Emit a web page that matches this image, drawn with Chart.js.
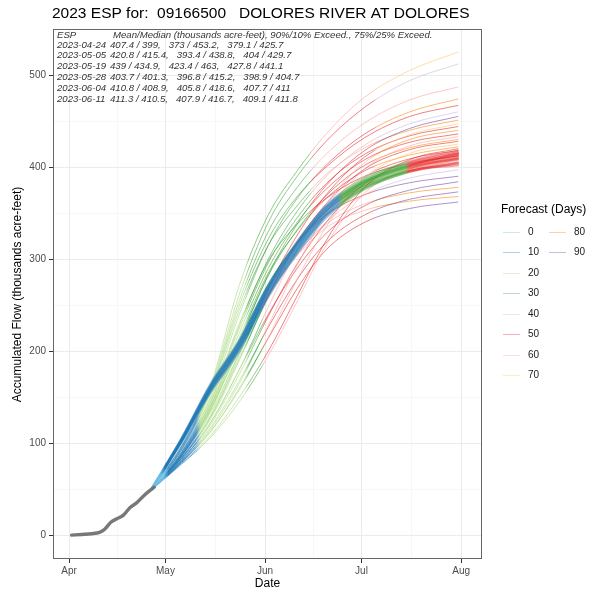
<!DOCTYPE html>
<html>
<head>
<meta charset="utf-8">
<script src="https://cdn.jsdelivr.net/npm/chart.js@4.4.1/dist/chart.umd.min.js"></script>
<style>
  html, body { margin: 0; padding: 0; background: #fff; }
</style>
</head>
<body>
<canvas id="chart" width="599" height="595"></canvas>
<script>
  // x values are days since Apr 1, y values thousand acre-feet
  const obsDays = [0.8, 4, 7, 9.5, 11, 13, 15, 17, 19, 21, 23, 25, 26.5];
  const obsFlow = [0, 0.7, 1.5, 3, 6, 14, 18, 22, 30, 35, 42, 48, 52];

  const traceDays = [26, 35, 44, 53, 62, 71, 80, 92, 106, 121];

  // tight ensemble band
  const coreTraces = [
    [52, 104, 162, 210, 270, 318, 357, 386, 405, 416],
    [52, 103, 160, 207, 267, 314, 353, 383, 401, 412],
    [52, 102, 158, 204, 263, 310, 349, 379, 397, 408],
    [52, 105, 164, 212, 272, 319, 358, 388, 406, 418],
    [52, 101, 156, 202, 261, 308, 347, 377, 395, 405],
    [52, 103, 161, 208, 268, 316, 355, 384, 402, 413],
    [52, 104, 159, 205, 265, 312, 351, 381, 399, 410],
    [52, 102, 157, 203, 262, 309, 348, 378, 396, 402],
    [52, 104, 163, 211, 271, 317, 356, 385, 403, 414],
    [52, 103, 158, 206, 266, 313, 352, 382, 400, 409],
    [52, 101, 155, 200, 259, 306, 345, 376, 395, 404],
    [52, 105, 162, 209, 269, 316, 354, 384, 402, 415]
  ];

  // wide ensemble spread
  const fanTraces = [
    [52, 97, 162, 272, 348, 396, 436, 476, 505, 525],
    [52, 96, 160, 262, 340, 390, 428, 465, 494, 512],
    [51, 95, 158, 255, 330, 378, 414, 448, 473, 487],
    [51, 92, 150, 240, 315, 366, 402, 436, 460, 474],
    [51, 94, 156, 250, 322, 368, 400, 432, 455, 467],
    [50, 90, 145, 228, 300, 352, 390, 424, 447, 460],
    [50, 86, 135, 210, 283, 338, 380, 418, 442, 455],
    [50, 93, 154, 245, 315, 358, 392, 421, 440, 451],
    [50, 84, 128, 195, 268, 326, 370, 411, 435, 447],
    [50, 89, 144, 225, 296, 345, 382, 414, 434, 444],
    [50, 82, 122, 180, 248, 310, 360, 405, 430, 440],
    [50, 88, 140, 220, 290, 340, 376, 408, 427, 436],
    [50, 80, 115, 165, 228, 293, 350, 398, 423, 433],
    [50, 87, 138, 212, 282, 332, 369, 402, 421, 430],
    [50, 83, 126, 190, 260, 318, 360, 398, 419, 428],
    [50, 79, 113, 158, 215, 278, 335, 388, 415, 425],
    [50, 88, 142, 215, 285, 331, 366, 396, 413, 422],
    [50, 78, 108, 150, 200, 260, 320, 378, 408, 420],
    [50, 84, 130, 198, 268, 320, 358, 390, 409, 418],
    [50, 81, 120, 175, 238, 295, 340, 382, 404, 415],
    [50, 90, 148, 230, 298, 338, 366, 390, 404, 412],
    [50, 77, 106, 145, 195, 254, 315, 372, 398, 410],
    [50, 86, 136, 205, 272, 318, 352, 380, 396, 405],
    [50, 83, 128, 192, 258, 305, 340, 370, 388, 397],
    [50, 87, 140, 210, 273, 318, 348, 370, 383, 390],
    [50, 81, 122, 180, 240, 290, 328, 358, 375, 384],
    [50, 85, 133, 198, 260, 306, 338, 360, 372, 378],
    [50, 80, 117, 168, 226, 278, 318, 348, 365, 373],
    [50, 86, 137, 202, 262, 304, 334, 353, 363, 368],
    [50, 79, 112, 160, 214, 268, 310, 340, 355, 362]
  ];

  const monthTicks = [0, 30, 61, 91, 122];
  const monthLabels = ["Apr", "May", "Jun", "Jul", "Aug"];
  const flowTicks = [0, 100, 200, 300, 400, 500];
  const forecastDays = [0, 10, 20, 30, 40, 50, 60, 70, 80, 90];

  const espHeader = ["ESP", "Mean/Median (thousands acre-feet), 90%/10% Exceed., 75%/25% Exceed."];
  const espDates = ["2023-04-24", "2023-05-05", "2023-05-19", "2023-05-28", "2023-06-04", "2023-06-11"];
  const espStats = [
    "407.4 / 399,   373 / 453.2,   379.1 / 425.7",
    "420.8 / 415.4,   393.4 / 438.8,   404 / 429.7",
    "439 / 434.9,   423.4 / 463,   427.8 / 441.1",
    "403.7 / 401.3,   396.8 / 415.2,   398.9 / 404.7",
    "410.8 / 408.9,   405.8 / 418.6,   407.7 / 411",
    "411.3 / 410.5,   407.9 / 416.7,   409.1 / 411.8"
  ];

  // colours per forecast day (0..90)
  const rgb = ["110,190,225", "31,120,180", "160,214,118", "51,160,44", "202,178,214",
               "227,26,28", "251,154,153", "253,191,111", "255,127,0", "106,61,154"];
  const col = (i, a) => "rgba(" + rgb[i] + "," + a + ")";

  // late colour picks for the spread traces (palette index)
  const fanLateA = [6, 5, 6, 5, 5, 6, 5, 6, 5, 5, 6, 5, 6, 5, 5, 6, 5, 5, 6, 5, 5, 6, 5, 6, 5, 5, 6, 5, 6, 5];
  const fanLateB = [7, 4, 6, 8, 5, 4, 9, 8, 7, 5, 8, 5, 6, 8, 5, 7, 8, 5, 5, 6, 5, 8, 6, 4, 9, 9, 8, 9, 8, 9];

  const pts = vals => vals.map((v, i) => ({ x: traceDays[i], y: v }));

  function stripe(chart, stops, fallback) {
    const area = chart.chartArea;
    if (!area || !chart.scales.x) return fallback;
    const xs = chart.scales.x;
    const w = area.right - area.left;
    const t = d => Math.min(1, Math.max(0, (xs.getPixelForValue(d) - area.left) / w));
    const g = chart.ctx.createLinearGradient(area.left, 0, area.right, 0);
    stops.forEach(([d, c], i) => {
      const next = stops[i + 1];
      g.addColorStop(t(d), c);
      if (next) g.addColorStop(Math.max(t(d), t(next[0] - 1.5)), c);
    });
    return g;
  }

  const datasets = [];
  datasets.push({
    data: obsDays.map((d, i) => ({ x: d, y: obsFlow[i] })),
    borderColor: "rgba(105,105,105,0.9)",
    borderWidth: 3.4,
    order: 0
  });
  coreTraces.forEach(tr => {
    const a = 0.38;
    const stops = [[-5, col(0, a)], [30, col(1, a)], [85, col(3, a)], [106, col(5, a)]];
    datasets.push({
      data: pts(tr),
      borderColor: ctx => stripe(ctx.chart, stops, col(1, a)),
      borderWidth: 2.3,
      order: 1
    });
  });
  fanTraces.forEach((tr, k) => {
    const a = 0.55;
    const redFrom = tr[4] > 270 ? 76 : 61;
    const stops = [[-5, col(0, a)], [31, col(1, a)], [41, col(2, a)], [56, col(3, a)],
                   [redFrom, col(fanLateA[k], a)], [96, col(fanLateB[k], a)]];
    datasets.push({
      data: pts(tr),
      borderColor: ctx => stripe(ctx.chart, stops, col(2, a)),
      borderWidth: 1,
      order: 2
    });
  });

  const minorX = monthTicks.slice(1).map((m, i) => (m + monthTicks[i]) / 2);
  const minorY = flowTicks.slice(1).map((m, i) => (m + flowTicks[i]) / 2);

  const FONT = "'Liberation Sans', Arial, Helvetica, sans-serif";

  const decor = {
    id: "decor",
    afterDraw(chart) {
      const { ctx, chartArea: a } = chart;
      ctx.save();
      ctx.strokeStyle = "#666";
      ctx.lineWidth = 1;
      ctx.strokeRect(a.left + 0.5, a.top - 0.5, a.right - a.left - 1, a.bottom - a.top);

      ctx.fillStyle = "#000";
      ctx.textBaseline = "middle";
      ctx.textAlign = "left";
      ctx.font = "15.5px " + FONT;
      ctx.fillText("2023 ESP for:  09166500   DOLORES RIVER AT DOLORES", 52, 14);

      ctx.fillStyle = "#333";
      ctx.font = "italic 9.6px " + FONT;
      ctx.fillText(espHeader[0], 57, 35);
      ctx.fillText(espHeader[1], 113, 35);
      espDates.forEach((d, i) => {
        const y = 45 + i * 10.8;
        ctx.fillText(d, 57, y);
        ctx.fillText(espStats[i], 110, y);
      });

      ctx.fillStyle = "#000";
      ctx.font = "12px " + FONT;
      ctx.textAlign = "center";
      ctx.fillText("Date", (a.left + a.right) / 2, 584);
      ctx.save();
      ctx.translate(18, (a.top + a.bottom) / 2);
      ctx.rotate(-Math.PI / 2);
      ctx.fillText("Accumulated Flow (thousands acre-feet)", 0, 0);
      ctx.restore();

      ctx.textAlign = "left";
      ctx.font = "12px " + FONT;
      ctx.fillText("Forecast (Days)", 501, 210);
      ctx.font = "10px " + FONT;
      forecastDays.forEach((d, i) => {
        const colN = i < 8 ? 0 : 1;
        const row = i < 8 ? i : i - 8;
        const x0 = colN === 0 ? 503 : 549;
        const y = Math.round(231.5 + row * 20.55) + 0.5;
        ctx.strokeStyle = col(i, 0.35);
        ctx.lineWidth = 1;
        ctx.beginPath();
        ctx.moveTo(x0, y);
        ctx.lineTo(x0 + 17, y);
        ctx.stroke();
        ctx.fillStyle = "#1a1a1a";
        ctx.fillText(String(d), x0 + 25, y);
      });
      ctx.restore();
    }
  };

  new Chart(document.getElementById("chart"), {
    type: "line",
    data: { datasets },
    options: {
      responsive: false,
      animation: false,
      devicePixelRatio: 1,
      layout: { padding: { top: 30, right: 117, left: 0, bottom: 0 } },
      elements: {
        point: { radius: 0 },
        line: { cubicInterpolationMode: "monotone", fill: false, borderCapStyle: "round" }
      },
      plugins: { legend: { display: false }, tooltip: { enabled: false }, title: { display: false } },
      scales: {
        x: {
          type: "linear",
          min: -5,
          max: 128.5,
          afterBuildTicks: s => { s.ticks = monthTicks.concat(minorX).map(v => ({ value: v })); },
          afterFit: s => { s.height = 36; },
          border: { display: false },
          grid: {
            color: c => monthTicks.includes(c.tick.value) ? "#ebebeb" : "#f3f3f3",
            lineWidth: c => monthTicks.includes(c.tick.value) ? 1 : 0.7,
            tickColor: c => monthTicks.includes(c.tick.value) ? "#333" : "rgba(0,0,0,0)",
            tickLength: 4
          },
          ticks: {
            autoSkip: false,
            maxRotation: 0,
            padding: 2,
            color: "#4d4d4d",
            font: { family: FONT, size: 10 },
            callback: v => { const i = monthTicks.indexOf(v); return i >= 0 ? monthLabels[i] : ""; }
          }
        },
        y: {
          type: "linear",
          min: -26,
          max: 549,
          afterBuildTicks: s => { s.ticks = flowTicks.concat(minorY).sort((p, q) => p - q).map(v => ({ value: v })); },
          afterFit: s => { s.width = 53; },
          border: { display: false },
          grid: {
            color: c => flowTicks.includes(c.tick.value) ? "#ebebeb" : "#f3f3f3",
            lineWidth: c => flowTicks.includes(c.tick.value) ? 1 : 0.7,
            tickColor: c => flowTicks.includes(c.tick.value) ? "#333" : "rgba(0,0,0,0)",
            tickLength: 4
          },
          ticks: {
            autoSkip: false,
            padding: 3,
            color: "#4d4d4d",
            font: { family: FONT, size: 10 },
            callback: v => flowTicks.includes(v) ? String(v) : ""
          }
        }
      }
    },
    plugins: [decor]
  });
</script>
</body>
</html>
